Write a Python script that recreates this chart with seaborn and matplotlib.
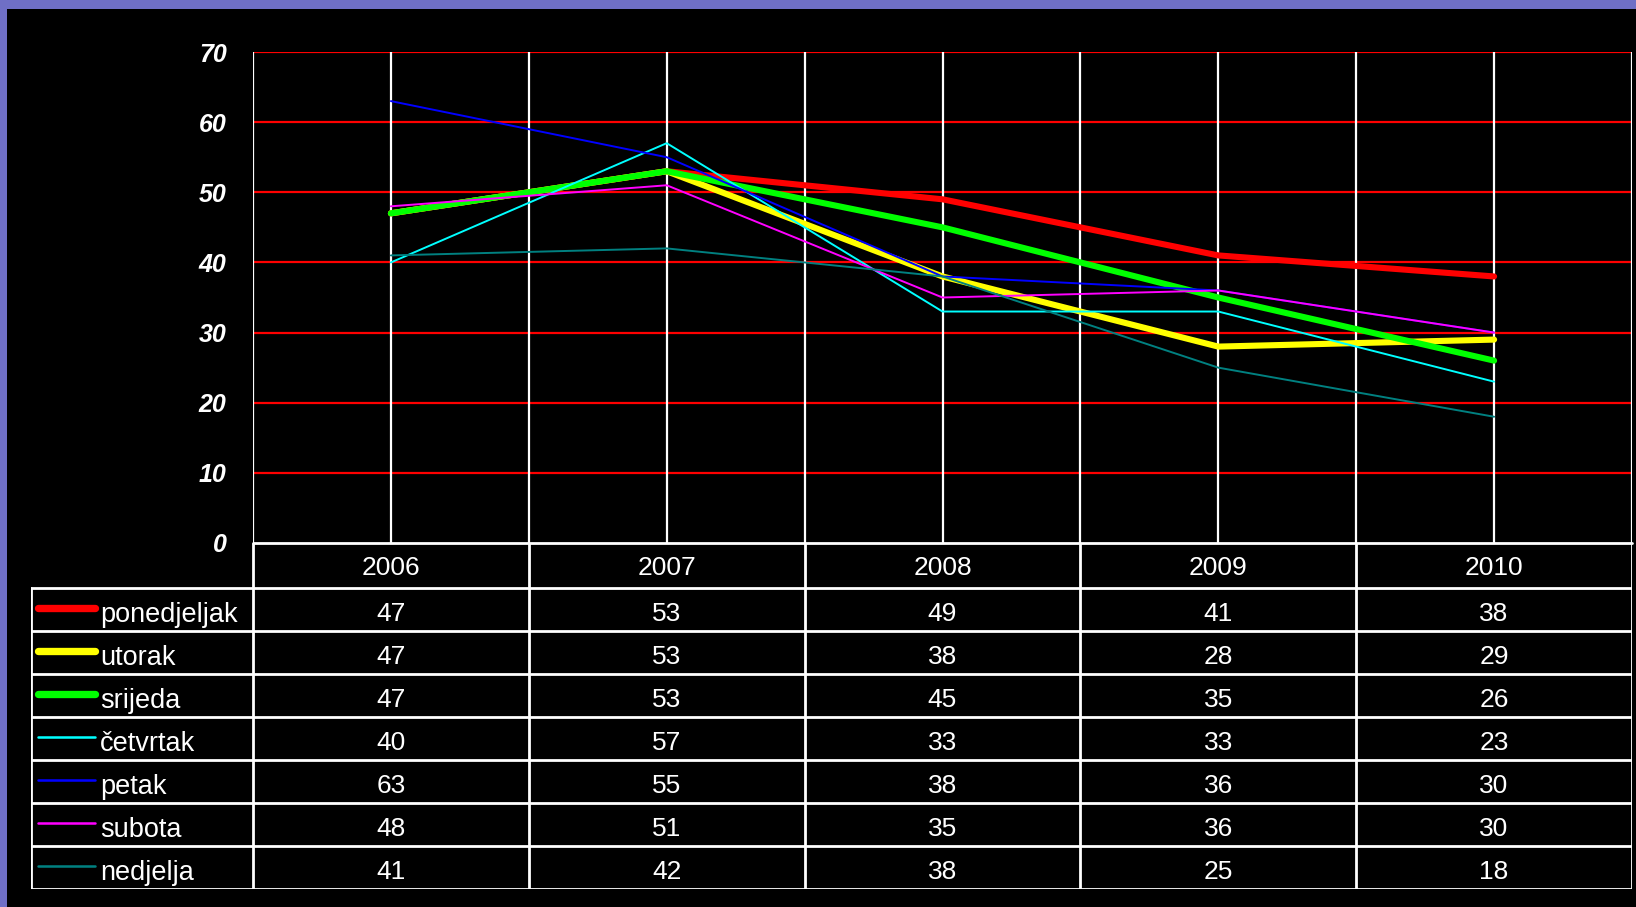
import matplotlib
matplotlib.use("Agg")
import numpy as np
import pandas as pd
import matplotlib.pyplot as plt
import seaborn as sns
from matplotlib.patches import Rectangle

years = ["2006", "2007", "2008", "2009", "2010"]
days = ["ponedjeljak", "utorak", "srijeda", "četvrtak", "petak", "subota", "nedjelja"]
ponedjeljak = [47, 53, 49, 41, 38]
utorak = [47, 53, 38, 28, 29]
srijeda = [47, 53, 45, 35, 26]
cetvrtak = [40, 57, 33, 33, 23]
petak = [63, 55, 38, 36, 30]
subota = [48, 51, 35, 36, 30]
nedjelja = [41, 42, 38, 25, 18]
y_ticks = [0, 10, 20, 30, 40, 50, 60, 70]

series = [ponedjeljak, utorak, srijeda, cetvrtak, petak, subota, nedjelja]
colors = ["#FF0000", "#FFFF00", "#00FF00", "#00FFFF", "#0000FF", "#FF00FF", "#008080"]
widths = [4.4, 4.4, 4.4, 1.4, 1.4, 1.4, 1.4]

rows = []
for day, vals in zip(days, series):
    for i, (yr, v) in enumerate(zip(years, vals)):
        rows.append({"day": day, "pos": i, "year": yr, "value": v})
data = pd.DataFrame(rows)

sns.set_style("dark")
plt.rcParams["font.family"] = ["Liberation Sans", "DejaVu Sans"]

W, H = 1636, 907
fig = plt.figure(figsize=(W / 100, H / 100), dpi=100, facecolor="#6F6FC6")
# black slide area
fig.patches.append(Rectangle((7 / W, 0), 1 - 7 / W, 1 - 9 / H, transform=fig.transFigure,
                             facecolor="black", edgecolor="none", zorder=-10))

# plot area in pixels
px_l, px_r, px_t, px_b = 253, 1632, 52, 543
ax = fig.add_axes([px_l / W, 1 - px_b / H, (px_r - px_l) / W, (px_b - px_t) / H])
ax.set_facecolor("black")

# grid
for yv in y_ticks[1:]:
    ax.axhline(yv, color="#FF0000", lw=1.6, zorder=1)
for k in range(len(years)):
    ax.axvline(k, color="white", lw=1.6, zorder=1)
for k in range(len(years) + 1):
    ax.axvline(k - 0.5, color="white", lw=1.6, zorder=1)
ax.axhline(0, color="white", lw=2, zorder=1, clip_on=False)

order = [6, 5, 4, 3, 0, 1, 2]
for idx in order:
    sub = data[data["day"] == days[idx]]
    sns.lineplot(data=sub, x="pos", y="value", ax=ax, color=colors[idx],
                 linewidth=widths[idx], solid_capstyle="round", zorder=3 + idx, legend=False)

ax.set_xlim(-0.5, len(years) - 0.5)
ax.set_ylim(0, 70)
ax.set_yticks(y_ticks)
ax.set_yticklabels([str(t) for t in y_ticks], fontsize=18, fontweight="bold",
                   fontstyle="italic", color="white")
ax.set_xticks([])
ax.tick_params(axis="y", length=0, pad=19)
ax.set_xlabel("")
ax.set_ylabel("")
ax.grid(False)
for s in ax.spines.values():
    s.set_visible(False)

# data table below the chart
tb_l, tb_t, tb_b = 31, 543, 889
tax = fig.add_axes([tb_l / W, 1 - tb_b / H, (px_r - tb_l) / W, (tb_b - tb_t) / H])
tax.set_xlim(tb_l, px_r)
tax.set_ylim(tb_b, tb_t)
tax.axis("off")

col_w = (px_r - px_l) / len(years)
head_b = 588
row_h = (tb_b - head_b) / len(days)
lc = "white"
lw = 2

# column separators
for k in range(len(years) + 1):
    x = px_l + k * col_w
    tax.plot([x, x], [tb_t, tb_b], color=lc, lw=lw, solid_capstyle="butt")
tax.plot([tb_l, tb_l], [head_b, tb_b], color=lc, lw=lw)
# row separators
for r in range(len(days) + 1):
    y = head_b + r * row_h
    tax.plot([tb_l, px_r], [y, y], color=lc, lw=lw)

for i, yr in enumerate(years):
    tax.text(px_l + (i + 0.5) * col_w, (tb_t + head_b) / 2 + 2, yr, color="white",
             fontsize=19, ha="center", va="center")

for r, (day, vals) in enumerate(zip(days, series)):
    yc = head_b + (r + 0.5) * row_h
    tax.plot([38, 95], [yc - 2, yc - 2], color=colors[r], lw=widths[r] * (1.2 if widths[r] > 2 else 1.3),
             solid_capstyle="round")
    tax.text(100, yc + 5, day, color="white", fontsize=19.5, ha="left", va="center")
    for i, v in enumerate(vals):
        tax.text(px_l + (i + 0.5) * col_w, yc + 4, str(v), color="white",
                 fontsize=19, ha="center", va="center")

fig.savefig("out.png", dpi=100, facecolor=fig.get_facecolor())
